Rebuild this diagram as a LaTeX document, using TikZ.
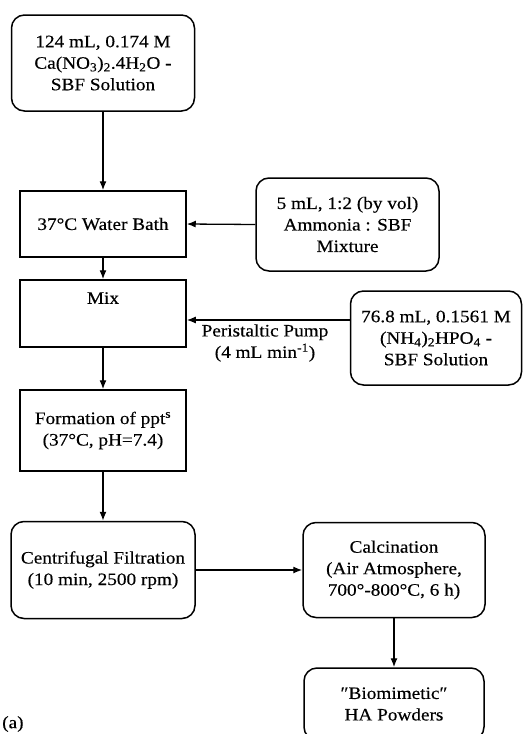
\documentclass[tikz,border=0pt]{standalone}
\usepackage{fontspec}
\setmainfont{Liberation Serif}[FakeStretch=1.1, FakeBold=0.3]
\usetikzlibrary{arrows.meta}
\begin{document}
\begin{tikzpicture}[x=1pt,y=-1pt,
  every node/.style={font=\fontsize{17.5}{21.5}\selectfont, align=center, inner sep=0pt},
  rbox/.style={draw, line width=1.5pt, rounded corners=13pt},
  sbox/.style={draw, line width=1.5pt},
  conn/.style={line width=1.3pt, -{Latex[length=9pt,width=7pt]}}]
\useasboundingbox (0,0) rectangle (523,734);
\fill[white] (0,0) rectangle (523,734);
% left column
\node[rbox, minimum width=183pt, minimum height=96pt] (src) at (103,63)
  {124 mL, 0.174 M\\Ca(NO\textsubscript{3})\textsubscript{2}.4H\textsubscript{2}O -\\SBF Solution};
\node[sbox, minimum width=166pt, minimum height=66pt] (bath) at (103,224) {37°C Water Bath};
\node[sbox, minimum width=166pt, minimum height=67pt] (mix) at (103,313.5) {};
\node (mixtext) at (103,298) {Mix};
\node[sbox, minimum width=166pt, minimum height=81pt] (form) at (103,430.5)
  {Formation of ppt\textsuperscript{s}\\(37°C, pH=7.4)};
\node[rbox, minimum width=184pt, minimum height=97pt] (cent) at (103,570)
  {Centrifugal Filtration\\(10 min, 2500 rpm)};
% right side
\node[rbox, minimum width=183pt, minimum height=93pt] (amm) at (347.5,224.5)
  {5 mL, 1:2 (by vol)\\Ammonia : SBF\\Mixture};
\node[rbox, minimum width=171pt, minimum height=94pt] (nh4) at (436,338)
  {76.8 mL, 0.1561 M\\(NH\textsubscript{4})\textsubscript{2}HPO\textsubscript{4} -\\SBF Solution};
\node (pump) at (265,343) {Peristaltic Pump\\(4 mL min\textsuperscript{-1})};
\node[rbox, minimum width=182pt, minimum height=95pt] (calc) at (394,570)
  {Calcination\\(Air Atmosphere,\\700°-800°C, 6 h)};
\node[rbox, minimum width=180pt, minimum height=72pt] (bio) at (394,704)
  {″Biomimetic″\\HA Powders};
\node[anchor=west] (lbl) at (2,724) {(a)};
% connectors
\coordinate (pumpy) at (0,320);
\draw[conn] (src) -- (bath);
\draw[conn] (amm.west) -- (bath.east);
\draw[conn] (bath) -- (mix);
\draw[conn] (nh4.west |- pumpy) -- (mix.east |- pumpy);
\draw[conn] (mix) -- (form);
\draw[conn] (form) -- (cent);
\draw[conn] (cent.east) -- (calc.west);
\draw[conn] (calc) -- (bio);
\end{tikzpicture}
\end{document}
